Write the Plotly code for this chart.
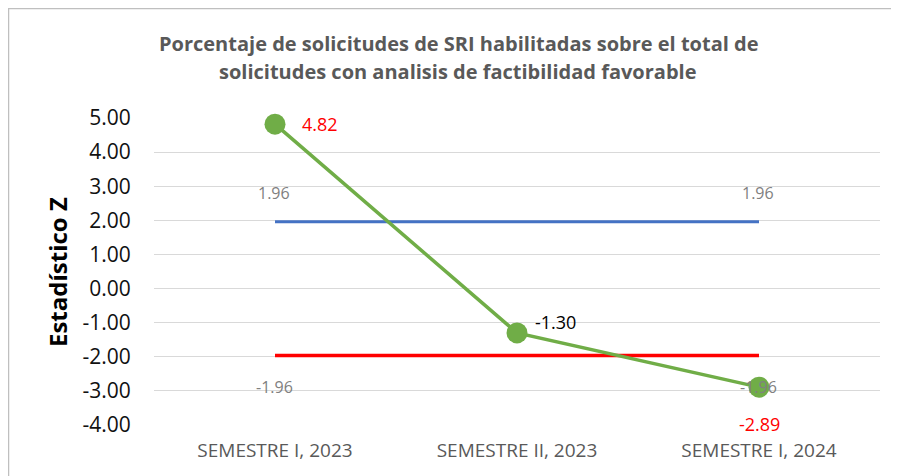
import plotly.graph_objects as go

# ---- data ----
categories = ["SEMESTRE I, 2023", "SEMESTRE II, 2023", "SEMESTRE I, 2024"]
z_values = [4.82, -1.30, -2.89]
upper_limit = [1.96, 1.96, 1.96]
lower_limit = [-1.96, -1.96, -1.96]
y_ticks = [5, 4, 3, 2, 1, 0, -1, -2, -3, -4]
title_lines = ["Porcentaje de solicitudes de SRI habilitadas sobre el total de",
               "solicitudes con analisis de factibilidad favorable"]
y_title = "Estadístico Z"

W, H = 899, 476
OFF = 8  # page body margin
L, T = 154 - OFF, 118 - OFF
R = W - (880 - OFF)
B = H - (425 - OFF)
pw, ph = W - L - R, H - T - B


def px_x(x):
    return (x - OFF - L) / pw


def px_y(y):
    return (H - B - (y - OFF)) / ph


FONT = "'Open Sans', sans-serif"

fig = go.Figure()

fig.add_trace(go.Scatter(x=categories, y=upper_limit, mode="lines",
                         line=dict(color="#4472C4", width=3), hoverinfo="skip",
                         cliponaxis=False, showlegend=False))
fig.add_trace(go.Scatter(x=categories, y=lower_limit, mode="lines",
                         line=dict(color="#FF0000", width=3.5), hoverinfo="skip",
                         cliponaxis=False, showlegend=False))
fig.add_trace(go.Scatter(x=categories, y=z_values, mode="lines+markers",
                         line=dict(color="#70AD47", width=3.5),
                         marker=dict(color="#70AD47", size=21),
                         cliponaxis=False, showlegend=False))

annotations = []
# limit labels
for i in (0, 2):
    annotations.append(dict(x=categories[i], y=upper_limit[i], text=f"{upper_limit[i]:.2f}",
                            showarrow=False, yshift=29, xshift=-1,
                            font=dict(family=FONT, size=16, color="#808080")))
    annotations.append(dict(x=categories[i], y=lower_limit[i], text=f"{lower_limit[i]:.2f}",
                            showarrow=False, yshift=-32, xshift=-1,
                            font=dict(family=FONT, size=16, color="#808080")))
# z labels
z_shift = [(45, 0, "#FF0000"), (38, 11, "#000000"), (0, -37, "#FF0000")]
for i, (xs, ys, col) in enumerate(z_shift):
    annotations.append(dict(x=categories[i], y=z_values[i], text=f"{z_values[i]:.2f}",
                            showarrow=False, xshift=xs, yshift=ys,
                            font=dict(family=FONT, size=18, color=col)))
# title
for txt, py in zip(title_lines, (44, 72)):
    annotations.append(dict(xref="paper", yref="paper", x=px_x(458), y=px_y(py),
                            text=f"<b>{txt}</b>", showarrow=False,
                            xanchor="center", yanchor="middle",
                            font=dict(family=FONT, size=20, color="#595959")))
# y-axis title
annotations.append(dict(xref="paper", yref="paper", x=px_x(57), y=px_y(272),
                        text=f"<b>{y_title}</b>", textangle=-90, showarrow=False,
                        xanchor="center", yanchor="middle",
                        font=dict(family=FONT, size=24, color="#000000")))

shapes = [
    dict(type="line", xref="paper", yref="paper", x0=px_x(8.5), x1=px_x(8.5),
         y0=px_y(8), y1=px_y(490), line=dict(color="#BFBFBF", width=1.5)),
    dict(type="line", xref="paper", yref="paper", x0=px_x(8.5), x1=px_x(915),
         y0=px_y(8.5), y1=px_y(8.5), line=dict(color="#BFBFBF", width=1.5)),
]

fig.update_layout(
    width=W, height=H,
    margin=dict(l=L, r=R, t=T, b=B),
    paper_bgcolor="white", plot_bgcolor="white",
    annotations=annotations, shapes=shapes,
    showlegend=False,
    xaxis=dict(type="category", range=[-0.5, 2.5], showgrid=False, zeroline=False,
               showline=False, ticks="outside", ticklen=8, tickcolor="rgba(0,0,0,0)",
               tickfont=dict(family=FONT, size=19, color="#595959")),
    yaxis=dict(range=[-4, 5], tickvals=y_ticks, ticktext=[f"{v:.2f}" for v in y_ticks],
               showgrid=True, gridcolor="#D9D9D9", gridwidth=1, zeroline=False,
               showline=False, ticks="outside", ticklen=18, tickcolor="rgba(0,0,0,0)",
               tickfont=dict(family=FONT, size=21, color="#111111")),
)

fig.write_html("out.html")
